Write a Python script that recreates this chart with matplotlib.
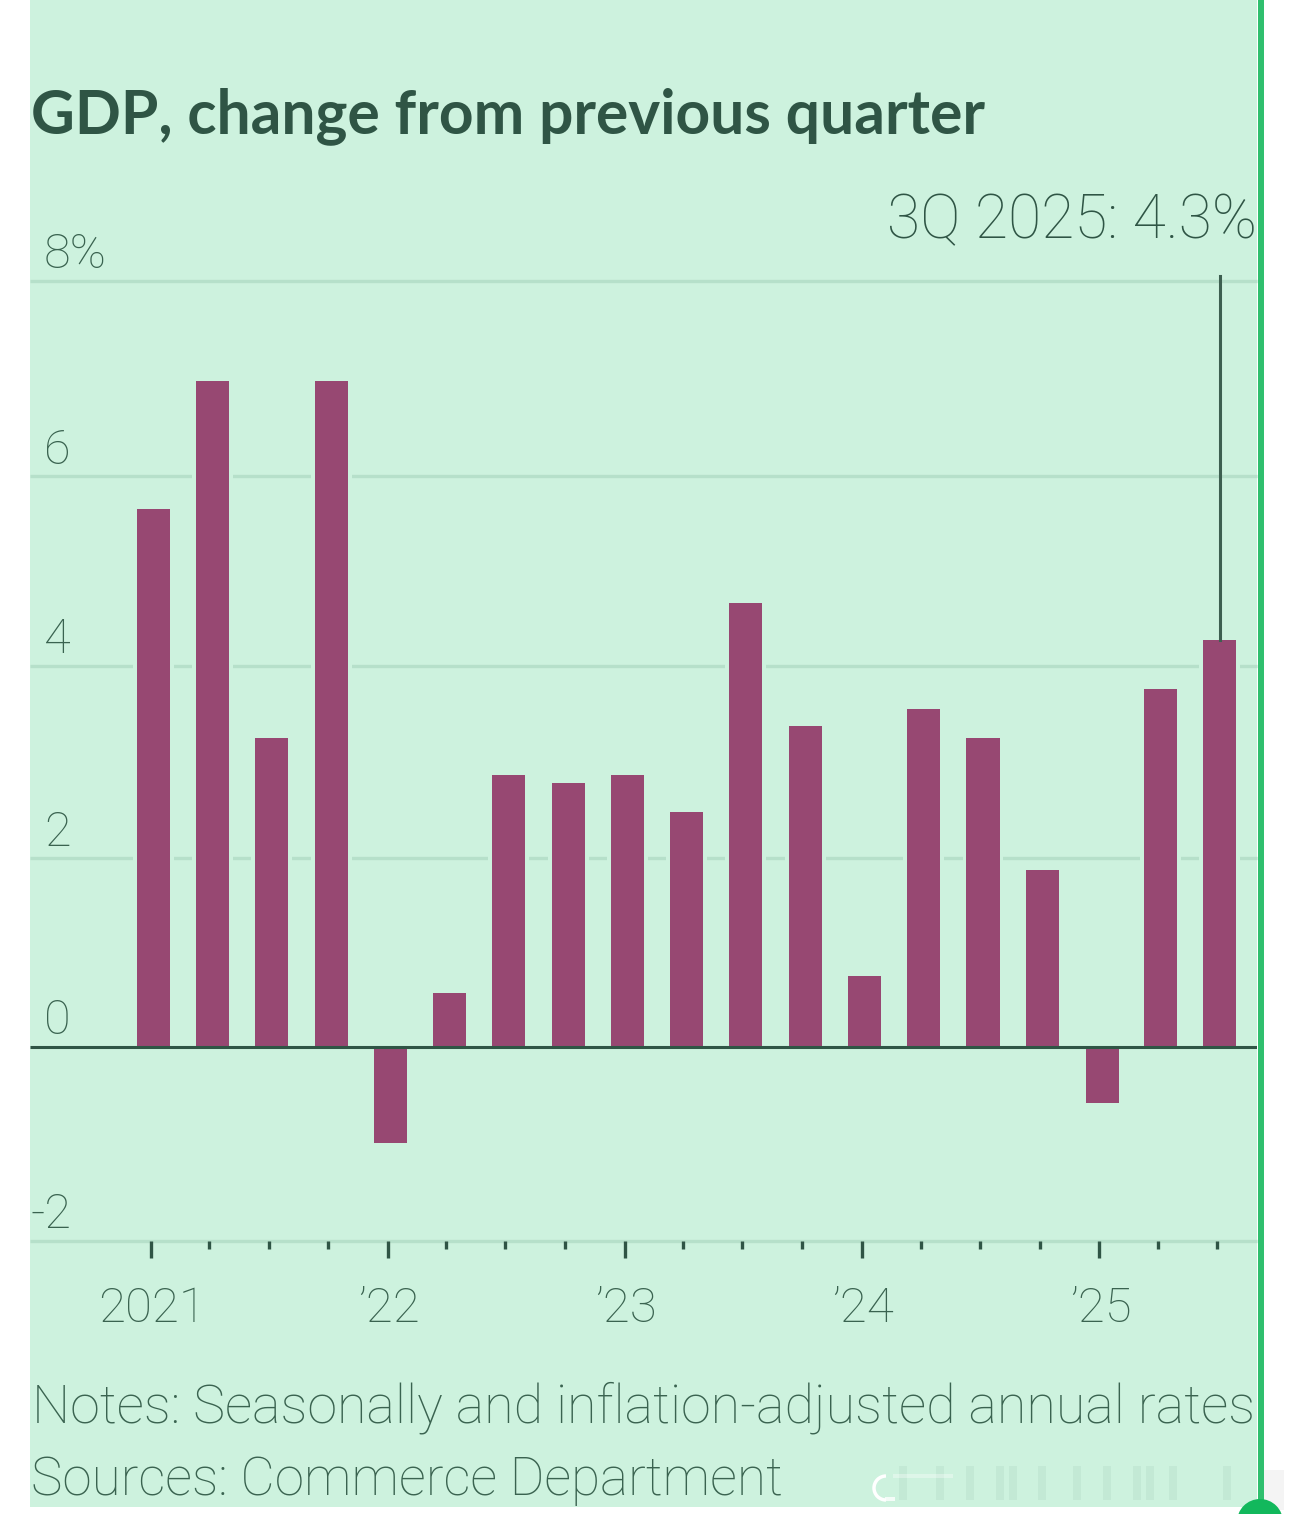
import numpy as np
import pandas as pd
from matplotlib import pyplot as plt
from matplotlib.patches import Rectangle, Circle, Arc

W, H = 1290, 1514
BG = '#cdf2de'
DARK = '#2f5545'
MID = '#3a6350'
GRID = '#b6e0ca'
BAR = '#974872'

quarters = pd.date_range('2021-01-01', '2025-07-01', freq='QS')
gdp = [5.62, 6.96, 3.23, 6.96, -1.01, 0.56, 2.84, 2.76, 2.84, 2.45,
       4.64, 3.35, 0.74, 3.53, 3.23, 1.85, -0.59, 3.74, 4.25]
# gridlines, slightly off the round values
grid_vals = [-2.03, 1.97, 3.98, 5.96, 8]
y_labels = ['-2', '0', '2', '4', '6', '8%']
y_label_vals = [-2.03, 0, 1.97, 3.98, 5.96, 8]
year_ticks = ['2021-01-01', '2022-01-01', '2023-01-01', '2024-01-01', '2025-01-01']
year_labels = ['2021', '\u201922', '\u201923', '\u201924', '\u201925']

plt.rcParams['font.family'] = ['Roboto', 'DejaVu Sans']

fig = plt.figure(figsize=(W / 100, H / 100), dpi=100, facecolor='white')


def px(x, y):
    return x / W, 1 - y / H


# panel background and the green rule at the right
fig.add_artist(Rectangle((30 / W, 1 - 1507 / H), 1227 / W, 1507 / H, transform=fig.transFigure,
                         facecolor=BG, edgecolor='none', zorder=-2))
fig.add_artist(Rectangle((1258 / W, 1 - 1500 / H), 6 / W, 1500 / H, transform=fig.transFigure,
                         facecolor='#2fbf6e', edgecolor='none', zorder=-1))

# axes cover 30..1257 px across, 281..1241 px down
ax = fig.add_axes([30 / W, 1 - 1241 / H, 1227 / W, 960 / H])
ax.patch.set_alpha(0)
px_per_day = 0.6492
x0 = pd.Timestamp('2021-01-01')
ax.set_xlim(x0 - pd.Timedelta(days=121 / px_per_day), x0 + pd.Timedelta(days=1106 / px_per_day))
ax.set_ylim(-2.03, 8)

for v in grid_vals:
    ax.axhline(v, color=GRID, lw=2.4, zorder=1, clip_on=False, solid_capstyle='butt')

bar_x = quarters + pd.Timedelta(days=4.5)
# gridlines stop a few pixels short of each bar
ax.bar(bar_x, gdp, width=63, color=BG, edgecolor='none', zorder=1.5)
ax.bar(bar_x, gdp, width=51, color=BAR, edgecolor='none', zorder=2)
ax.axhline(0, color=DARK, lw=2.2, zorder=3, solid_capstyle='butt')

# callout line for the last bar
ax.plot([bar_x[-1]] * 2, [gdp[-1], 8.05], color='#3d5f50', lw=2.2, zorder=3, clip_on=False)

for s in ax.spines.values():
    s.set_visible(False)
ax.set_yticks([])
ax.set_xticks(quarters)
ax.set_xticklabels([])
ax.tick_params(axis='x', length=12, width=2.4, color=DARK, direction='out', pad=0)
for t, d in zip(ax.xaxis.get_major_ticks(), quarters):
    if d.month != 1:
        t.tick1line.set_markersize(5.5)

for d, lab in zip(year_ticks, year_labels):
    ax.annotate(lab, (pd.Timestamp(d), 0), xycoords=('data', 'axes fraction'), xytext=(1, -58),
                textcoords='offset points', ha='center', va='baseline', fontsize=35.5, color=MID,
                fontweight='light')

for v, lab in zip(y_label_vals, y_labels):
    ax.annotate(lab, (0, v), xycoords=('axes fraction', 'data'), xytext=(10 if v != -2.03 else 0, 9),
                textcoords='offset points', ha='left', va='baseline', fontsize=35, color=MID,
                fontweight='light')

fig.text(*px(31, 133), 'GDP, change from previous quarter', fontsize=43.6, fontweight='bold', color=DARK,
         va='baseline', family='Lato')
fig.text(*px(1257, 238), '3Q 2025: 4.3%', fontsize=43.6, fontweight='light', color=DARK, ha='right', va='baseline')
fig.text(*px(32, 1422), 'Notes: Seasonally and inflation-adjusted annual rates', fontsize=38.8, fontweight='light',
         color=MID, va='baseline')
fig.text(*px(31, 1495), 'Sources: Commerce Department', fontsize=38.2, fontweight='light', color=MID, va='baseline')

overlay = fig.add_axes([0, 0, 1, 1])
overlay.set_xlim(0, W)
overlay.set_ylim(H, 0)
overlay.axis('off')

# faint blurred watermark over the bottom right corner
for x in [903, 940, 970, 1000, 1013, 1042, 1077, 1107, 1137, 1150, 1173, 1227]:
    overlay.add_patch(Rectangle((x - 4, 1466), 8, 34, facecolor='#8fb8a3', edgecolor='none', alpha=0.15))
overlay.add_patch(Rectangle((893, 1474), 60, 4, facecolor='white', edgecolor='none', alpha=0.35))
overlay.add_patch(Arc((886, 1488), 24, 24, theta1=90, theta2=270, color='white', lw=2.5))
overlay.add_patch(Rectangle((885, 1497), 10, 4, facecolor='white', edgecolor='none', alpha=0.8))
overlay.add_patch(Rectangle((1264, 1470), 20, 40, facecolor='#c9c9c9', edgecolor='none', alpha=0.2))

# round badge cut off at the bottom edge
overlay.add_patch(Circle((1260, 1522), 23, facecolor='#12b85c', edgecolor='none'))

fig.savefig('out.png', dpi=100)
